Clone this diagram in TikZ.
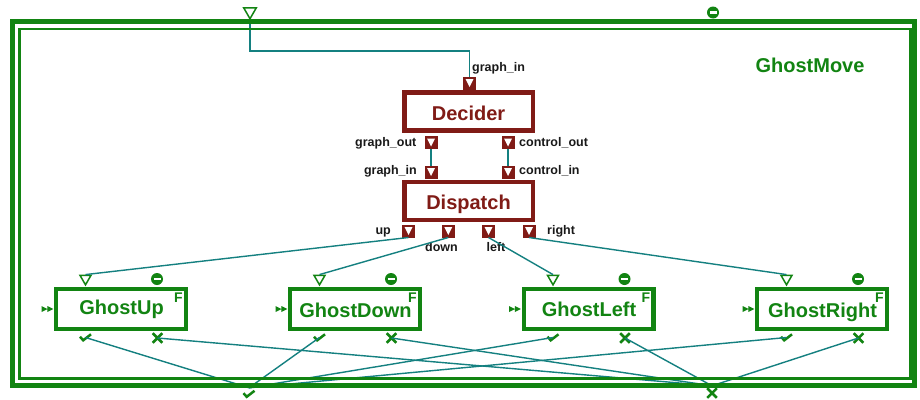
\documentclass[tikz,border=0pt]{standalone}
\usepackage{fontspec}
\setmainfont{Liberation Sans}
\usetikzlibrary{shapes.geometric}
\definecolor{gmgreen}{RGB}{18,132,18}
\definecolor{dred}{RGB}{128,27,22}
\definecolor{wirec}{RGB}{20,128,128}
\begin{document}
\begin{tikzpicture}[x=1pt,y=-1pt,
  wire/.style={draw=wirec, line width=1.4pt},
  redbox/.style={draw=dred, fill=white, line width=4.5pt, minimum width=128.5pt, minimum height=38pt, inner sep=0pt},
  ghostbox/.style={draw=gmgreen, fill=white, line width=4.2pt, minimum width=129.8pt, minimum height=39.8pt, inner sep=0pt},
  boxtext/.style={font=\fontsize{20}{24}\selectfont\bfseries, inner sep=0pt, anchor=base},
  plabel/.style={font=\fontsize{12.5}{15}\selectfont\bfseries, text=black!90, inner sep=0pt},
  rport/.style={rectangle, fill=dred, minimum size=13pt, inner sep=0pt, outer sep=0pt,
    path picture={\fill[white] ([shift={(-4pt,4pt)}]path picture bounding box.center) -- ++(8pt,0pt) -- ++(-4pt,-8pt) -- cycle;}},
  gtri/.style={regular polygon, regular polygon sides=3, shape border rotate=180, draw=gmgreen, line width=1.5pt, minimum size=12.7pt, inner sep=0pt},
  gminus/.style={circle, fill=gmgreen, minimum size=12pt, inner sep=0pt,
    path picture={\fill[white] ([shift={(-3.5pt,-1.2pt)}]path picture bounding box.center) rectangle ++(7pt,2.4pt);}},
  gok/.style={minimum width=16pt, minimum height=12pt, inner sep=0pt,
    path picture={\draw[gmgreen, line width=2.5pt] ([shift={(-5.5pt,0.8pt)}]path picture bounding box.center) -- ++(3.2pt,-3.6pt) -- ++(7.8pt,6pt);}},
  gko/.style={minimum size=14pt, inner sep=0pt,
    path picture={\draw[gmgreen, line width=2.5pt] ([shift={(-4.8pt,-4.8pt)}]path picture bounding box.center) -- ++(9.6pt,9.6pt) ([shift={(-4.8pt,4.8pt)}]path picture bounding box.center) -- ++(9.6pt,-9.6pt);}},
  gtrig/.style={minimum width=14pt, minimum height=8pt, inner sep=0pt,
    path picture={\fill[gmgreen] ([shift={(-6pt,3pt)}]path picture bounding box.center) -- ++(6pt,-3pt) -- ++(-6pt,-3pt) -- cycle ([shift={(-0.2pt,3pt)}]path picture bounding box.center) -- ++(6pt,-3pt) -- ++(-6pt,-3pt) -- cycle;}},
]
\useasboundingbox (0,0) rectangle (920,399);
\fill[white] (0,0) rectangle (920,399);

% top-level ports and title
\node[gtri, minimum size=14.5pt] (tin) at (250,11.5) {};
\node[gminus] (tmin) at (713,12.5) {};
\node[gok] (ocheck) at (249,394) {};
\node[gko] (ox) at (712,393) {};
\node[boxtext, text=gmgreen] (title) at (810,72) {GhostMove};

% Decider and Dispatch
\node[redbox] (decider) at (468.5,111.5) {};
\node[boxtext, text=dred] (decidert) at (468.5,120.7) {Decider};
\node[redbox] (dispatch) at (468.5,201) {};
\node[boxtext, text=dred] (dispatcht) at (468.5,209.3) {Dispatch};

\node[rport] (dgin) at (469.5,83) {};
\node[rport] (dgout) at (431,142.5) {};
\node[rport] (dcout) at (508,142.5) {};
\node[rport] (pgin) at (431,172) {};
\node[rport] (pcin) at (508,172) {};
\node[rport] (pUp) at (408.5,231) {};
\node[rport] (pDown) at (448.3,231) {};
\node[rport] (pLeft) at (488.5,231) {};
\node[rport] (pRight) at (529,231) {};

\node[plabel, anchor=base west] (lgin) at (472,71) {graph\_in};
\node[plabel, anchor=base east] (lgout) at (416.5,146.5) {graph\_out};
\node[plabel, anchor=base west] (lcout) at (519,146.5) {control\_out};
\node[plabel, anchor=base east] (lpgin) at (417,174.5) {graph\_in};
\node[plabel, anchor=base west] (lpcin) at (519,174.5) {control\_in};
\node[plabel, anchor=base east] (lup) at (391,234) {up};
\node[plabel, anchor=base west] (lright) at (547,234.5) {right};
\node[plabel, anchor=base] (ldown) at (441.5,251) {down};
\node[plabel, anchor=base] (lleft) at (496,251) {left};

% ghost boxes
\foreach \n/\x/\b in {Up/121/314, Down/355/317.5, Left/588.5/316, Right/822/317.5}{
  \node[ghostbox] (g\n) at (\x,309) {};
  \node[boxtext, text=gmgreen] (gt\n) at (\x+0.5,\b) {Ghost\n};
  \node[font=\fontsize{14}{16}\selectfont\bfseries, text=gmgreen, anchor=base, inner sep=0pt] (gf\n) at (\x+57.5,302) {F};
  \node[gtri] (t\n) at (\x-35.5,278.5) {};
  \node[gminus] (m\n) at (\x+36,279) {};
  \node[gtrig] (s\n) at (\x-73.5,309) {};
  \node[gok] (c\n) at (\x-35.5,337.5) {};
  \node[gko] (k\n) at (\x+36.5,338) {};
}

% connectors
\coordinate (bend) at (469.5,51);
\draw[wire] (tin.south) |- (bend) -- (dgin.north);
\draw[wire] (dgout.south) -- (pgin.north);
\draw[wire] (dcout.south) -- (pcin.north);
\foreach \n in {Up,Down,Left,Right}{
  \draw[wire] (p\n.south) -- (t\n.north);
  \draw[wire] (c\n.center) -- (ocheck.north);
  \draw[wire] (k\n.center) -- (ox.north);
}

% frame
\draw[gmgreen, line width=5pt] (12,21.3) rectangle (914.8,385);
\draw[gmgreen, line width=2.6pt] (19.5,28.8) rectangle (910.3,378.5);
\end{tikzpicture}
\end{document}
